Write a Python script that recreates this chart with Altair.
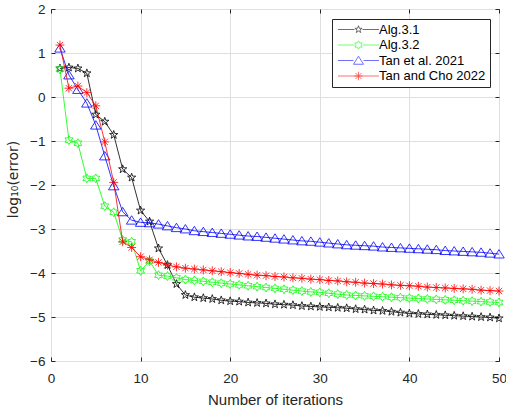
import altair as alt
import pandas as pd

iterations = list(range(1, 51))

alg31 = [0.65, 0.67, 0.65, 0.54, -0.40, -0.56, -0.86, -1.64, -1.83, -2.58,
         -2.83, -3.44, -3.82, -4.25, -4.50, -4.55, -4.57, -4.59, -4.62, -4.64,
         -4.65, -4.67, -4.68, -4.69, -4.71, -4.72, -4.73, -4.75, -4.76, -4.77,
         -4.78, -4.79, -4.80, -4.82, -4.83, -4.85, -4.86, -4.88, -4.90, -4.92,
         -4.93, -4.94, -4.95, -4.96, -4.97, -4.98, -4.99, -5.00, -5.01, -5.03]

alg32 = [0.63, -0.98, -1.05, -1.85, -1.85, -2.48, -2.62, -3.25, -3.29, -3.95,
         -3.73, -4.05, -4.07, -4.11, -4.15, -4.17, -4.19, -4.21, -4.23, -4.25,
         -4.27, -4.29, -4.31, -4.33, -4.35, -4.37, -4.39, -4.41, -4.43, -4.44,
         -4.46, -4.48, -4.50, -4.51, -4.52, -4.53, -4.54, -4.55, -4.56, -4.57,
         -4.58, -4.59, -4.60, -4.61, -4.62, -4.63, -4.64, -4.65, -4.66, -4.67]

tan2021 = [1.11, 0.50, 0.17, -0.14, -0.64, -1.34, -2.02, -2.61, -2.80, -2.85,
           -2.86, -2.89, -2.93, -2.97, -3.00, -3.04, -3.06, -3.08, -3.10, -3.12,
           -3.14, -3.16, -3.17, -3.19, -3.21, -3.23, -3.25, -3.27, -3.28, -3.30,
           -3.32, -3.34, -3.36, -3.37, -3.38, -3.39, -3.41, -3.42, -3.43, -3.44,
           -3.45, -3.46, -3.47, -3.49, -3.50, -3.51, -3.52, -3.53, -3.55, -3.57]

tancho2022 = [1.18, 0.20, 0.25, 0.10, -0.20, -1.02, -1.94, -3.29, -3.42, -3.63,
              -3.70, -3.76, -3.82, -3.86, -3.89, -3.91, -3.93, -3.95, -3.97, -3.99,
              -4.01, -4.03, -4.05, -4.06, -4.08, -4.09, -4.11, -4.12, -4.14, -4.15,
              -4.17, -4.18, -4.20, -4.21, -4.23, -4.24, -4.25, -4.27, -4.28, -4.29,
              -4.30, -4.32, -4.33, -4.34, -4.35, -4.36, -4.37, -4.39, -4.40, -4.41]

names = ["Alg.3.1", "Alg.3.2", "Tan et al. 2021", "Tan and Cho 2022"]
series_values = [alg31, alg32, tan2021, tancho2022]
colors = ["#000000", "#00ff00", "#0000ff", "#ff0000"]

x_ticks = [0, 10, 20, 30, 40, 50]
y_ticks = [-6, -5, -4, -3, -2, -1, 0, 1, 2]

# marker outlines in unit coordinates
star_pts = [(0, -1), (0.235, -0.324), (0.951, -0.309), (0.38, 0.124), (0.588, 0.809),
            (0, 0.4), (-0.588, 0.809), (-0.38, 0.124), (-0.951, -0.309), (-0.235, -0.324)]
hex_pts = [(0, -1), (0.289, -0.5), (0.866, -0.5), (0.577, 0), (0.866, 0.5), (0.289, 0.5),
           (0, 1), (-0.289, 0.5), (-0.866, 0.5), (-0.577, 0), (-0.866, -0.5), (-0.289, -0.5)]
tri_pts = [(0, -0.85), (1, 0.75), (-1, 0.75)]


def poly(pts, s=1.0):
    return "M" + "L".join(f"{x*s:.3f},{y*s:.3f}" for x, y in pts) + "Z"


def aster(s=1.0):
    a = 0.707 * s
    return (f"M{-s},0L{s},0M0,{-s}L0,{s}"
            f"M{-a},{-a}L{a},{a}M{-a},{a}L{a},{-a}")


marker_paths = [poly(star_pts), poly(hex_pts), poly(tri_pts), aster()]
marker_sizes = [75, 80, 110, 80]

line_half = 4.1
legend_paths = [
    f"M{-line_half},0L{-0.8},0M0.8,0L{line_half},0" + poly(star_pts, 0.75),
    f"M{-line_half},0L{-0.8},0M0.8,0L{line_half},0" + poly(hex_pts, 0.85),
    f"M{-line_half},0L{-1.0},0M1.0,0L{line_half},0" + poly(tri_pts, 1.0),
    f"M{-line_half},0L{line_half},0" + aster(0.85),
]

rows = []
for name, vals in zip(names, series_values):
    for it, v in zip(iterations, vals):
        rows.append({"iter": it, "value": v, "series": name})
df = pd.DataFrame(rows)

FONT = "Liberation Sans"
TXT = "#262626"
TICK = 4

x_scale = alt.Scale(domain=[0, 50], nice=False)
y_scale = alt.Scale(domain=[-6, 2], nice=False)

# main axes: bottom / left with labels, grid and inward ticks
x_main = alt.X("iter:Q", scale=x_scale,
               axis=alt.Axis(values=x_ticks, title="Number of iterations", grid=True,
                             ticks=True, tickSize=TICK, offset=-TICK, tickColor=TXT,
                             labelPadding=10, titlePadding=8, domain=False,
                             labelFlush=False))
y_main = alt.Y("value:Q", scale=y_scale,
               axis=alt.Axis(values=y_ticks, title="log₁₀(error)", grid=True,
                             ticks=True, tickSize=TICK, offset=-TICK, tickColor=TXT,
                             labelPadding=6, titlePadding=9, domain=False,
                             labelFlush=False, titleFont="DejaVu Sans",
                             titleFontSize=14, titleY=170))
# mirrored inward ticks on top / right
x_top = alt.X("iter:Q", scale=x_scale,
              axis=alt.Axis(values=x_ticks, orient="top", title=None, grid=False,
                            labels=False, ticks=True, tickSize=TICK, offset=-TICK,
                            tickColor=TXT, domain=False))
y_right = alt.Y("value:Q", scale=y_scale,
                axis=alt.Axis(values=y_ticks, orient="right", title=None, grid=False,
                              labels=False, ticks=True, tickSize=TICK, offset=-TICK,
                              tickColor=TXT, domain=False))
x_plain = alt.X("iter:Q", scale=x_scale, axis=None)
y_plain = alt.Y("value:Q", scale=y_scale, axis=None)

empty = alt.Chart(df).transform_filter("false")
layers = [
    empty.mark_point(opacity=0).encode(x=x_main, y=y_main),
    empty.mark_point(opacity=0).encode(x=x_top, y=y_right),
]
for name, col, path, sz in zip(names, colors, marker_paths, marker_sizes):
    sub = alt.Chart(df).transform_filter(alt.datum.series == name)
    layers.append(sub.mark_line(color=col, strokeWidth=0.8).encode(x=x_plain, y=y_plain))
    layers.append(sub.mark_point(shape=path, size=sz, filled=False, color=col,
                                 strokeWidth=0.8, opacity=1).encode(x=x_plain, y=y_plain))

leg = dict(title=None, orient="none", legendX=281, legendY=10, padding=4,
           strokeColor=TXT, fillColor="white", symbolSize=100, symbolStrokeWidth=0.8,
           symbolOffset=16, labelOffset=14, labelFont=FONT, labelFontSize=13,
           labelColor="#000000", rowPadding=1.5, labelLimit=300)

legend_layer = empty.mark_point(filled=False, strokeWidth=0.8).encode(
    x=x_plain, y=y_plain,
    color=alt.Color("series:N", scale=alt.Scale(domain=names, range=colors),
                    legend=alt.Legend(**leg)),
    shape=alt.Shape("series:N", scale=alt.Scale(domain=names, range=legend_paths),
                    legend=alt.Legend(**leg)),
)
layers.append(legend_layer)

chart = alt.layer(*layers).resolve_axis(
    x="independent", y="independent"
).properties(
    width=448, height=352,
    background="white",
    autosize=alt.AutoSizeParams(type="none"),
    padding={"left": 51, "top": 9, "right": 7, "bottom": 46},
).configure_view(
    stroke=TXT, strokeWidth=1
).configure_axis(
    labelFont=FONT, titleFont=FONT, labelFontSize=13.5, titleFontSize=15,
    labelColor=TXT, titleColor=TXT, titleFontWeight="normal",
    gridColor="#dfdfdf", gridWidth=1, tickWidth=1
)

chart.save("out.html", embed_options={"renderer": "svg", "actions": False})
